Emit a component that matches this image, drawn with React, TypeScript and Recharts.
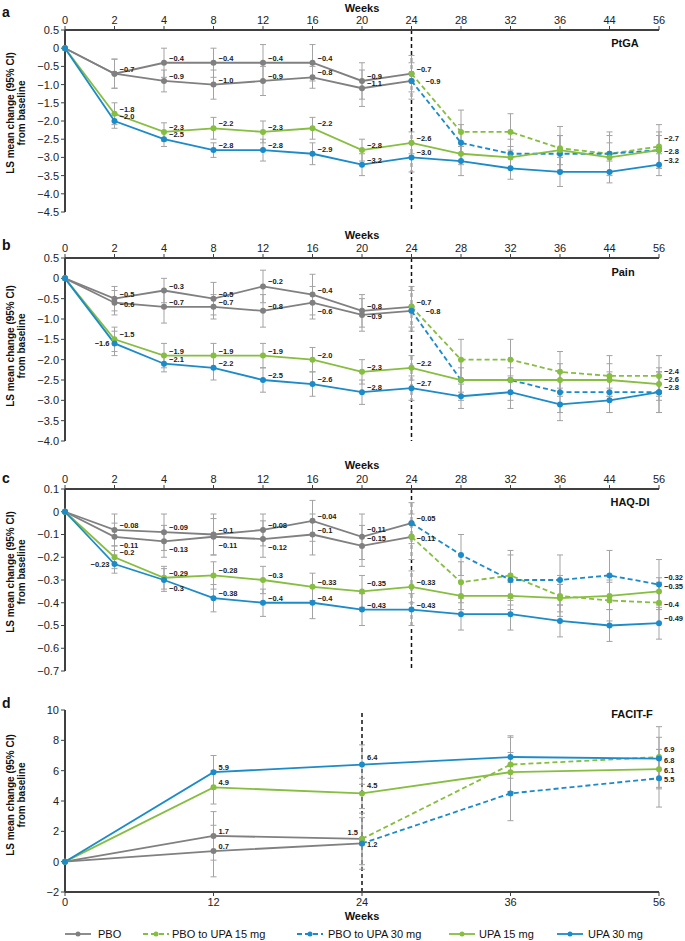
import React from "react";
import { LineChart, Line, XAxis, YAxis, ErrorBar, ReferenceLine, LabelList } from "recharts";

const FONT = '"Liberation Sans", Arial, Helvetica, sans-serif';
const GRAY = "#808080";
const GREEN = "#86be3f";
const BLUE = "#1b8bc9";
const CI = "#a3a3a3";
const AXIS = "#404040";
const _ = null;

// weeks
const weeksLong = [0, 2, 4, 8, 12, 16, 20, 24, 28, 32, 36, 44, 56];
const weeksFacit = [0, 12, 24, 36, 56];

// a – PtGA
const ptgaPbo15 = [0, -0.7, -0.4, -0.4, -0.4, -0.4, -0.9, -0.7, _, _, _, _, _];
const ptgaPbo30 = [0, -0.7, -0.9, -1.0, -0.9, -0.8, -1.1, -0.9, _, _, _, _, _];
const ptgaSw15 = [_, _, _, _, _, _, _, -0.7, -2.3, -2.3, -2.75, -2.9, -2.7];
const ptgaSw30 = [_, _, _, _, _, _, _, -0.9, -2.6, -2.9, -2.9, -2.9, -2.8];
const ptgaUpa15 = [0, -1.8, -2.3, -2.2, -2.3, -2.2, -2.8, -2.6, -2.9, -3.0, -2.8, -3.0, -2.8];
const ptgaUpa30 = [0, -2.0, -2.5, -2.8, -2.8, -2.9, -3.2, -3.0, -3.1, -3.3, -3.4, -3.4, -3.2];
const ptgaPbo15Ci = [0, 0.4, 0.4, 0.4, 0.5, 0.5, 0.5];
const ptgaPbo30Ci = [0, 0.4, 0.3, 0.4, 0.4, 0.3, 0.5];
const ptgaSw15Ci = [_, _, _, _, _, _, _, 0.5, 0.6, 0.5, 0.6, 0.6, 0.6];
const ptgaSw30Ci = [_, _, _, _, _, _, _, 0.5, 0.5, 0.4, 0.5, 0.5, 0.5];
const ptgaUpa15Ci = [0, 0.3, 0.25, 0.3, 0.3, 0.3, 0.3, 0.3, 0.3, 0.3, 0.4, 0.4, 0.4];
const ptgaUpa30Ci = [0, 0.2, 0.2, 0.2, 0.3, 0.3, 0.3, 0.4, 0.4, 0.3, 0.4, 0.3, 0.3];
const ptgaTicks = [0.5, 0, -0.5, -1.0, -1.5, -2.0, -2.5, -3.0, -3.5, -4.0, -4.5];

// b – Pain
const painPbo15 = [0, -0.5, -0.3, -0.5, -0.2, -0.4, -0.8, -0.7, _, _, _, _, _];
const painPbo30 = [0, -0.6, -0.7, -0.7, -0.8, -0.6, -0.9, -0.8, _, _, _, _, _];
const painSw15 = [_, _, _, _, _, _, _, -0.7, -2.0, -2.0, -2.3, -2.4, -2.4];
const painSw30 = [_, _, _, _, _, _, _, -0.8, -2.5, -2.5, -2.8, -2.8, -2.8];
const painUpa15 = [0, -1.5, -1.9, -1.9, -1.9, -2.0, -2.3, -2.2, -2.5, -2.5, -2.5, -2.5, -2.6];
const painUpa30 = [0, -1.6, -2.1, -2.2, -2.5, -2.6, -2.8, -2.7, -2.9, -2.8, -3.1, -3.0, -2.8];
const painPbo15Ci = [0, 0.3, 0.3, 0.4, 0.4, 0.5, 0.4];
const painPbo30Ci = [0, 0.3, 0.4, 0.3, 0.4, 0.4, 0.4];
const painSw15Ci = [_, _, _, _, _, _, _, 0.5, 0.5, 0.5, 0.5, 0.5, 0.5];
const painSw30Ci = [_, _, _, _, _, _, _, 0.5, 0.5, 0.5, 0.5, 0.5, 0.5];
const painUpa15Ci = [0, 0.3, 0.3, 0.3, 0.3, 0.3, 0.3, 0.3, 0.3, 0.3, 0.4, 0.4, 0.4];
const painUpa30Ci = [0, 0.3, 0.2, 0.3, 0.3, 0.3, 0.3, 0.3, 0.3, 0.4, 0.4, 0.3, 0.5];
const painTicks = [0.5, 0, -0.5, -1.0, -1.5, -2.0, -2.5, -3.0, -3.5, -4.0];

// c – HAQ-DI
const haqPbo15 = [0, -0.11, -0.13, -0.11, -0.12, -0.1, -0.15, -0.11, _, _, _, _, _];
const haqPbo30 = [0, -0.08, -0.09, -0.1, -0.08, -0.04, -0.11, -0.05, _, _, _, _, _];
const haqSw15 = [_, _, _, _, _, _, _, -0.11, -0.31, -0.28, -0.37, -0.39, -0.4];
const haqSw30 = [_, _, _, _, _, _, _, -0.05, -0.19, -0.3, -0.3, -0.28, -0.32];
const haqUpa15 = [0, -0.2, -0.29, -0.28, -0.3, -0.33, -0.35, -0.33, -0.37, -0.37, -0.38, -0.37, -0.35];
const haqUpa30 = [0, -0.23, -0.3, -0.38, -0.4, -0.4, -0.43, -0.43, -0.45, -0.45, -0.48, -0.5, -0.49];
const haqPbo15Ci = [0, 0.06, 0.07, 0.08, 0.08, 0.09, 0.09];
const haqPbo30Ci = [0, 0.07, 0.08, 0.09, 0.07, 0.09, 0.1];
const haqSw15Ci = [_, _, _, _, _, _, _, 0.1, 0.09, 0.11, 0.09, 0.09, 0.09];
const haqSw30Ci = [_, _, _, _, _, _, _, 0.09, 0.09, 0.11, 0.11, 0.11, 0.11];
const haqUpa15Ci = [0, 0.05, 0.05, 0.06, 0.06, 0.06, 0.07, 0.07, 0.06, 0.06, 0.06, 0.06, 0.06];
const haqUpa30Ci = [0, 0.04, 0.05, 0.06, 0.06, 0.07, 0.07, 0.07, 0.07, 0.07, 0.07, 0.07, 0.07];
const haqTicks = [0.1, 0, -0.1, -0.2, -0.3, -0.4, -0.5, -0.6, -0.7];

// d – FACIT-F
const facitPbo15 = [0, 1.7, 1.5, _, _];
const facitPbo30 = [0, 0.7, 1.2, _, _];
const facitSw15 = [_, _, 1.5, 6.4, 6.9];
const facitSw30 = [_, _, 1.2, 4.5, 5.5];
const facitUpa15 = [0, 4.9, 4.5, 5.9, 6.1];
const facitUpa30 = [0, 5.9, 6.4, 6.9, 6.8];
const facitPbo15Ci = [0, 1.6, _];
const facitPbo30Ci = [0, 1.7, _];
const facitSw15Ci = [_, _, 1.7, 1.8, 2.0];
const facitSw30Ci = [_, _, 1.7, 1.8, 1.9];
const facitUpa15Ci = [0, 1.1, 1.0, 1.3, 1.3];
const facitUpa30Ci = [0, 1.1, 1.3, 1.4, 1.4];
const facitTicks = [10, 8, 6, 4, 2, 0, -2];

const legendNames = ["PBO", "PBO to UPA 15 mg", "PBO to UPA 30 mg", "UPA 15 mg", "UPA 30 mg"];

const SERIES = [
  { key: "p15", color: GRAY, dash: undefined },
  { key: "p30", color: GRAY, dash: undefined },
  { key: "s15", color: GREEN, dash: "5 3" },
  { key: "s30", color: BLUE, dash: "5 3" },
  { key: "u15", color: GREEN, dash: undefined },
  { key: "u30", color: BLUE, dash: undefined },
];

type Arr = (number | null)[];
function makeRows(weeks: number[], vals: Arr[], cis: Arr[]) {
  return weeks.map((w, i) => {
    const r: any = { week: String(w) };
    SERIES.forEach((s, j) => {
      r[s.key] = vals[j][i] ?? null;
      r[s.key + "E"] = cis[j][i] ?? null;
    });
    return r;
  });
}

const minus = (s: string) => s.replace("-", "\u2212");
const fmt1 = (v: number) => (v === 0 ? "0" : minus(v.toFixed(1)));
const fmtRaw = (v: number) => minus(String(v));

// label placement codes: r right, u right-up, d right-down, b below, R far right, l left, k left-up
const OFFS: Record<string, [number, number, string]> = {
  r: [5, -2, "start"],
  u: [5, -5, "start"],
  d: [5, 4, "start"],
  b: [5, 11, "start"],
  R: [14, 3, "start"],
  l: [-5, 3, "end"],
  k: [-4, -4, "end"],
};

const tagger = (pos: string, fmt: (v: number) => string) => (p: any) => {
  const o = OFFS[pos[p.index]];
  if (!o || p.value == null) return null;
  const x = Number(p.x ?? p.viewBox?.x);
  const y = Number(p.y ?? p.viewBox?.y);
  return (
    <text x={x + o[0]} y={y + o[1]} textAnchor={o[2] as any} fontSize={7.5} fontWeight="bold" fill="#222" fontFamily={FONT}>
      {fmt(Number(p.value))}
    </text>
  );
};

function Panel(props: {
  top: number;
  height: number;
  mTop: number;
  xTop: boolean;
  data: any[];
  domain: [number, number];
  ticks: number[];
  tickFmt: (v: number) => string;
  valFmt: (v: number) => string;
  pos: Record<string, string>;
}) {
  const { top, height, mTop, xTop, data, domain, ticks, tickFmt, valFmt, pos } = props;
  return (
    <div style={{ position: "absolute", left: 0, top }}>
      <LineChart width={685} height={height} data={data} margin={{ top: mTop, right: 26, bottom: xTop ? 5 : 0, left: 0 }}>
        <XAxis
          dataKey="week"
          orientation={xTop ? "top" : "bottom"}
          height={xTop ? 30 : 20}
          interval={0}
          tickSize={4}
          tick={{ fontSize: 11, fill: "#222", fontFamily: FONT }}
          tickLine={{ stroke: AXIS }}
          axisLine={{ stroke: AXIS, strokeWidth: 2 }}
        />
        <YAxis
          type="number"
          domain={domain}
          ticks={ticks}
          interval={0}
          allowDataOverflow
          width={65}
          tickSize={4}
          tickFormatter={tickFmt}
          tick={{ fontSize: 11, fill: "#222", fontFamily: FONT }}
          tickLine={{ stroke: AXIS }}
          axisLine={{ stroke: AXIS, strokeWidth: 2 }}
        />
        <ReferenceLine x="24" stroke="#111" strokeDasharray="4 3" strokeWidth={1.5} />
        {SERIES.map((s) => (
          <Line
            key={s.key}
            dataKey={s.key}
            stroke={s.color}
            strokeWidth={1.8}
            strokeDasharray={s.dash}
            dot={{ r: 3, fill: s.color, stroke: s.color, strokeWidth: 0 }}
            activeDot={false}
            isAnimationActive={false}
          >
            <ErrorBar dataKey={s.key + "E"} width={3} stroke={CI} strokeWidth={1} direction="y" />
            <LabelList dataKey={s.key} content={tagger(pos[s.key], valFmt)} />
          </Line>
        ))}
      </LineChart>
    </div>
  );
}

const dataA = makeRows(weeksLong, [ptgaPbo15, ptgaPbo30, ptgaSw15, ptgaSw30, ptgaUpa15, ptgaUpa30], [ptgaPbo15Ci, ptgaPbo30Ci, ptgaSw15Ci, ptgaSw30Ci, ptgaUpa15Ci, ptgaUpa30Ci]);
const dataB = makeRows(weeksLong, [painPbo15, painPbo30, painSw15, painSw30, painUpa15, painUpa30], [painPbo15Ci, painPbo30Ci, painSw15Ci, painSw30Ci, painUpa15Ci, painUpa30Ci]);
const dataC = makeRows(weeksLong, [haqPbo15, haqPbo30, haqSw15, haqSw30, haqUpa15, haqUpa30], [haqPbo15Ci, haqPbo30Ci, haqSw15Ci, haqSw30Ci, haqUpa15Ci, haqUpa30Ci]);
const dataD = makeRows(weeksFacit, [facitPbo15, facitPbo30, facitSw15, facitSw30, facitUpa15, facitUpa30], [facitPbo15Ci, facitPbo30Ci, facitSw15Ci, facitSw30Ci, facitUpa15Ci, facitUpa30Ci]);

const posA = { p15: ".rrrrrr", p30: "..rrrrr", s15: ".......r....u", s30: ".......R", u15: ".rrrrrrr....d", u30: ".rrrrrrr....r" };
const posB = { p15: ".rrrrrr", p30: ".drrrbd", s15: ".......r....r", s30: ".......R....r", u15: ".rrrrrrr....r", u30: ".lrrrrrr" };
const posC = { p15: ".bbbbru", p30: ".rrrrru", s15: ".......d....d", s30: ".......r....u", u15: ".rrrrrur....r", u30: ".lbrrrrr....r" };
const posD = { p15: ".r", p30: ".r", s15: "..k.u", s30: "..d.d", u15: ".ru.d", u30: ".ru.d" };

const LEG = [
  { color: GRAY, dash: undefined, x: 65, tx: 98 },
  { color: GREEN, dash: "5 3", x: 143, tx: 172 },
  { color: BLUE, dash: "5 3", x: 297, tx: 328 },
  { color: GREEN, dash: undefined, x: 449, tx: 479 },
  { color: BLUE, dash: undefined, x: 557, tx: 588 },
];

const txt = { fontFamily: FONT, fill: "#111" } as const;

function Overlay() {
  const yLabel = (cy: number) => (
    <g key={cy}>
      <text x={14} y={cy} transform={`rotate(-90 14 ${cy})`} textAnchor="middle" fontSize={10} fontWeight="bold" {...txt}>
        LS mean change (95% CI)
      </text>
      <text x={25} y={cy} transform={`rotate(-90 25 ${cy})`} textAnchor="middle" fontSize={10} fontWeight="bold" {...txt}>
        from baseline
      </text>
    </g>
  );
  const bold = (x: number, y: number, s: string, size = 11, anchor: any = "middle") => (
    <text key={s + y} x={x} y={y} textAnchor={anchor} dominantBaseline="central" fontSize={size} fontWeight="bold" {...txt}>
      {s}
    </text>
  );
  return (
    <svg width={685} height={941} style={{ position: "absolute", left: 0, top: 0, pointerEvents: "none" }}>
      {bold(2, 12, "a", 14, "start")}
      {bold(2, 245, "b", 14, "start")}
      {bold(2, 478, "c", 14, "start")}
      {bold(2, 703, "d", 14, "start")}
      {bold(362, 8, "Weeks")}
      {bold(362, 235, "Weeks")}
      {bold(362, 465, "Weeks")}
      {bold(362, 916, "Weeks")}
      {bold(625, 43, "PtGA")}
      {bold(623, 272, "Pain")}
      {bold(630, 502, "HAQ-DI")}
      {bold(632, 714, "FACIT-F")}
      {[113, 346, 572, 795].map(yLabel)}
      {LEG.map((l, i) => (
        <g key={i}>
          <line x1={l.x} x2={l.x + 26} y1={934} y2={934} stroke={l.color} strokeWidth={1.8} strokeDasharray={l.dash} />
          <circle cx={l.x + 13} cy={934} r={2.5} fill={l.color} />
          <text x={l.tx} y={934} dominantBaseline="central" fontSize={11} {...txt}>
            {legendNames[i]}
          </text>
        </g>
      ))}
    </svg>
  );
}

export default function App() {
  return (
    <div style={{ position: "absolute", left: 0, top: 0, width: 685, height: 941, background: "#fff", fontFamily: FONT }}>
      <Panel top={0} height={217} mTop={0} xTop data={dataA} domain={[-4.5, 0.5]} ticks={ptgaTicks} tickFmt={fmt1} valFmt={fmt1} pos={posA} />
      <Panel top={228} height={218} mTop={0} xTop data={dataB} domain={[-4, 0.5]} ticks={painTicks} tickFmt={fmt1} valFmt={fmt1} pos={posB} />
      <Panel top={459} height={217} mTop={0} xTop data={dataC} domain={[-0.7, 0.1]} ticks={haqTicks} tickFmt={fmtRaw} valFmt={fmtRaw} pos={posC} />
      <Panel top={700} height={212} mTop={10} xTop={false} data={dataD} domain={[-2, 10]} ticks={facitTicks} tickFmt={fmtRaw} valFmt={(v) => v.toFixed(1)} pos={posD} />
      <Overlay />
    </div>
  );
}
